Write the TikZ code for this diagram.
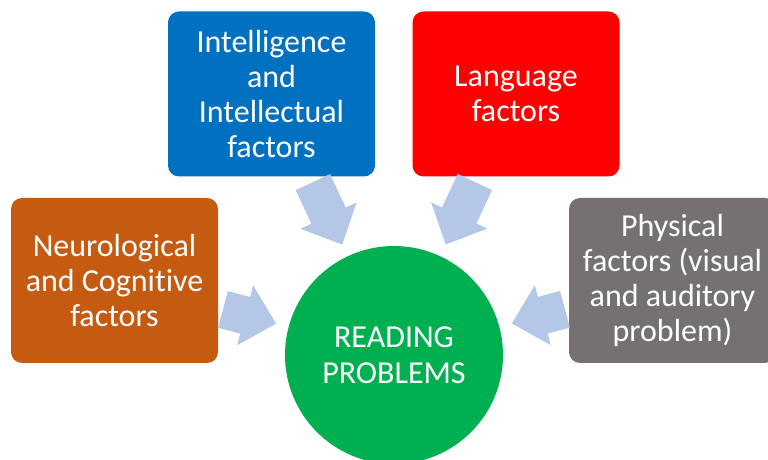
\documentclass[tikz,border=0pt]{standalone}
\usepackage{fontspec}
\setmainfont{Carlito}[Ligatures={NoCommon}]
\usetikzlibrary{calc}
\definecolor{orangec}{HTML}{C55A11}
\definecolor{bluec}{HTML}{0070C0}
\definecolor{redc}{HTML}{FF0000}
\definecolor{grayc}{HTML}{767171}
\definecolor{greenc}{HTML}{00B050}
\definecolor{arrowc}{HTML}{B4C7E7}
\begin{document}
\begin{tikzpicture}[x=1pt,y=1pt,
  box/.style={rectangle, rounded corners=11pt, minimum width=207pt, minimum height=165pt,
    text=white, align=center, font=\fontsize{32}{35}\selectfont, inner sep=0pt},
  hub/.style={circle, fill=greenc, minimum size=218pt, inner sep=0pt, text=white,
    align=center, font=\fontsize{32}{36}\selectfont},
  arrowfill/.style={fill=arrowc}]
\clip (0,0) rectangle (768,460);
\node[box, fill=orangec] (neu) at (114.5,179.5) {Neurological\\and Cognitive\\factors};
\node[box, fill=bluec] (int) at (271.5,366) {Intelligence\\and\\Intellectual\\factors};
\node[box, fill=redc] (lan) at (516,366) {Language\\factors};
\node[box, fill=grayc] (phy) at (672.5,179.5) {Physical\\factors (visual\\and auditory\\problem)};
\node[hub] (c) at (394,105) {READING\\PROBLEMS};
\foreach \b/\e in {neu/177pt, int/191pt, lan/191pt, phy/177pt} {
  \coordinate (T) at ($(c.center)!122pt!(\b.center)$);
  \coordinate (H) at ($(c.center)!154pt!(\b.center)$);
  \coordinate (E) at ($(c.center)!\e!(\b.center)$);
  \fill[arrowfill] (T) -- ($(H)!31pt!90:(\b.center)$) -- ($(H)!19pt!90:(\b.center)$)
    -- ($(E)!19pt!90:(\b.center)$) -- ($(E)!19pt!-90:(\b.center)$)
    -- ($(H)!19pt!-90:(\b.center)$) -- ($(H)!31pt!-90:(\b.center)$) -- cycle;
}
\end{tikzpicture}
\end{document}
